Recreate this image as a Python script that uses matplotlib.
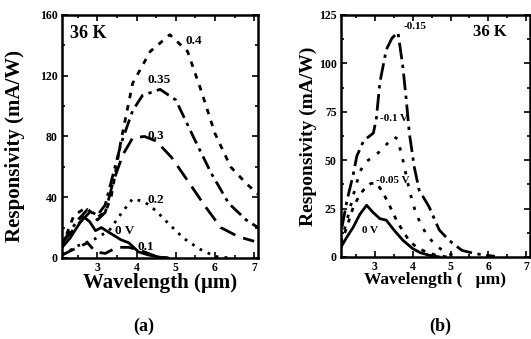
import matplotlib
matplotlib.use("Agg")
import matplotlib.pyplot as plt
from matplotlib.ticker import MultipleLocator

plt.rcParams['font.family'] = ['Liberation Serif', 'DejaVu Serif']
plt.rcParams['font.weight'] = 'bold'

# ---- panel (a): positive bias ----
a_x_0v = [2.1, 2.3, 2.5, 2.65, 2.8, 2.95, 3.1, 3.35, 3.6, 3.8, 4.05, 4.3, 4.6, 4.8]
a_y_0v = [7, 13, 21, 27, 24, 18, 20, 16, 12, 10, 4, 2, 0.5, 0]
a_x_01 = [2.1, 2.5, 2.75, 2.95, 3.2, 3.5, 3.8, 4.1, 4.5, 4.8]
a_y_01 = [2, 7, 10, 4, 3, 7, 7, 5, 1, 0]
a_x_02 = [2.1, 2.5, 2.9, 3.3, 3.6, 3.9, 4.2, 4.5, 4.8, 5.2, 5.6, 6.0, 6.4]
a_y_02 = [2, 8, 12, 18, 29, 39, 37, 31, 23, 13, 6, 1, 0]
a_x_03 = [2.1, 2.5, 2.8, 3.0, 3.2, 3.4, 3.65, 3.9, 4.2, 4.5, 4.9, 5.3, 5.75, 6.15, 6.6, 7.0]
a_y_03 = [10, 22, 30, 25, 30, 50, 68, 79, 80, 77, 66, 51, 34, 20, 14, 11]
a_x_035 = [2.1, 2.5, 2.75, 3.0, 3.2, 3.4, 3.6, 3.9, 4.15, 4.6, 5.0, 5.5, 5.9, 6.35, 6.8, 7.1]
a_y_035 = [10, 25, 32, 28, 35, 55, 75, 97, 107, 111, 104, 77, 56, 36, 25, 20]
a_x_04 = [2.1, 2.4, 2.7, 3.0, 3.2, 3.35, 3.6, 3.9, 4.35, 4.85, 5.3, 5.65, 6.0, 6.4, 6.8, 7.1]
a_y_04 = [8, 28, 33, 27, 30, 40, 77, 115, 136, 147, 136, 110, 82, 60, 49, 42]

# ---- panel (b): negative bias ----
b_x_0v = [2.1, 2.25, 2.43, 2.6, 2.78, 2.95, 3.13, 3.3, 3.5, 3.74, 4.0, 4.2, 4.43, 4.7]
b_y_0v = [5, 10, 15.5, 22, 26.7, 23, 19.8, 19, 14, 8.6, 4.3, 2.2, 0.9, 0]
b_x_005 = [2.1, 2.25, 2.43, 2.6, 2.75, 2.9, 3.05, 3.22, 3.4, 3.57, 3.75, 3.9, 4.1, 4.35, 4.6, 4.9]
b_y_005 = [7, 15, 26, 32, 36, 38, 38, 33, 26, 19, 13, 8.6, 5, 2.6, 1, 0]
b_x_01 = [2.1, 2.25, 2.43, 2.6, 2.75, 2.9, 3.1, 3.3, 3.5, 3.6, 3.74, 3.91, 4.09, 4.35, 4.6, 4.9, 5.2]
b_y_01 = [8, 18, 32, 44, 49, 51, 54, 58, 62, 61, 50, 34.5, 22, 12, 6, 2, 0]
b_x_015 = [2.13, 2.26, 2.43, 2.52, 2.7, 2.96, 3.04, 3.13, 3.3, 3.45, 3.61, 3.74, 3.83,
           3.91, 4.04, 4.17, 4.43, 4.7, 4.96, 5.3, 5.65, 6.17]
b_y_015 = [15.5, 29, 43, 52, 60, 64, 72, 90, 107, 113, 116, 98, 81, 64, 46.5, 34.5,
           26, 14, 8.6, 3.4, 1.7, 0.3]

fig = plt.figure(figsize=(5.31, 3.39), dpi=100)
ax1 = fig.add_axes([0.117, 0.239, 0.369, 0.717])
ax2 = fig.add_axes([0.642, 0.242, 0.356, 0.714])

lw = 2.0
ax1.plot(a_x_0v, a_y_0v, color='k', lw=lw)
ax1.plot(a_x_01, a_y_01, color='k', lw=lw, ls=(0, (5, 3)))
ax1.plot(a_x_02, a_y_02, color='k', lw=lw, ls=(0, (1, 2.2)))
ax1.plot(a_x_03, a_y_03, color='k', lw=lw, ls=(0, (6, 3)))
ax1.plot(a_x_035, a_y_035, color='k', lw=lw, ls=(0, (5, 2, 1.2, 2)))
ax1.plot(a_x_04, a_y_04, color='k', lw=lw, ls=(0, (2, 2.5)))

ax2.plot(b_x_0v, b_y_0v, color='k', lw=lw)
ax2.plot(b_x_005, b_y_005, color='k', lw=lw, ls=(0, (1.5, 2.5)))
ax2.plot(b_x_01, b_y_01, color='k', lw=lw, ls=(0, (1.2, 3.2)))
ax2.plot(b_x_015, b_y_015, color='k', lw=lw, ls=(0, (6, 2, 1.2, 2)))

for ax, ymax, ymaj, ymin in [(ax1, 160, 40, 20), (ax2, 125, 25, 12.5)]:
    ax.set_xlim(2.1, 7.1)
    ax.set_ylim(0, ymax)
    ax.xaxis.set_major_locator(MultipleLocator(1))
    ax.xaxis.set_minor_locator(MultipleLocator(0.5))
    ax.yaxis.set_major_locator(MultipleLocator(ymaj))
    ax.yaxis.set_minor_locator(MultipleLocator(ymin))
    ax.tick_params(which='both', direction='in', top=True, right=True, width=1.2)
    ax.tick_params(which='major', length=4, labelsize=8.5, pad=3)
    ax.tick_params(which='minor', length=2)
    for s in ax.spines.values():
        s.set_linewidth(1.8)
    for lab in ax.get_xticklabels() + ax.get_yticklabels():
        lab.set_fontweight('bold')

ax1.set_xlabel('Wavelength (µm)', fontsize=15, fontweight='bold', labelpad=-1)
ax1.set_ylabel('Responsivity (mA/W)', fontsize=15, fontweight='bold')
ax1.yaxis.set_label_coords(-0.19, 0.46)
ax2.set_xlabel('Wavelength (   µm)', fontsize=12.5, fontweight='bold', labelpad=-1)
ax2.set_ylabel('Responsivity (mA/W)', fontsize=14, fontweight='bold', labelpad=1)

ax1.text(2.31, 148, '36 K', fontsize=13, fontweight='bold', va='center')
ax1.text(5.26, 143, '0.4', fontsize=9.5, fontweight='bold', va='center')
ax1.text(4.28, 117, '0.35', fontsize=9.5, fontweight='bold', va='center')
ax1.text(4.28, 80, '0.3', fontsize=9.5, fontweight='bold', va='center')
ax1.text(4.28, 38, '0.2', fontsize=9.5, fontweight='bold', va='center')
ax1.text(3.46, 18, '0 V', fontsize=9.5, fontweight='bold', va='center')
ax1.text(4.03, 7.5, '0.1', fontsize=9.5, fontweight='bold', va='center')

ax2.text(5.6, 116, '36 K', fontsize=12, fontweight='bold', va='center')
ax2.text(3.75, 119, '-0.15', fontsize=8, fontweight='bold', va='center')
ax2.text(3.13, 71.5, '-0.1 V', fontsize=8, fontweight='bold', va='center')
ax2.text(3.04, 39.7, '-0.05 V', fontsize=8, fontweight='bold', va='center')
ax2.text(2.65, 13.8, '0 V', fontsize=8, fontweight='bold', va='center')

fig.text(0.27, 0.038, '(a)', ha='center', va='center', fontsize=13, fontweight='bold')
fig.text(0.829, 0.038, '(b)', ha='center', va='center', fontsize=13, fontweight='bold')

fig.savefig('out.png', dpi=100)
